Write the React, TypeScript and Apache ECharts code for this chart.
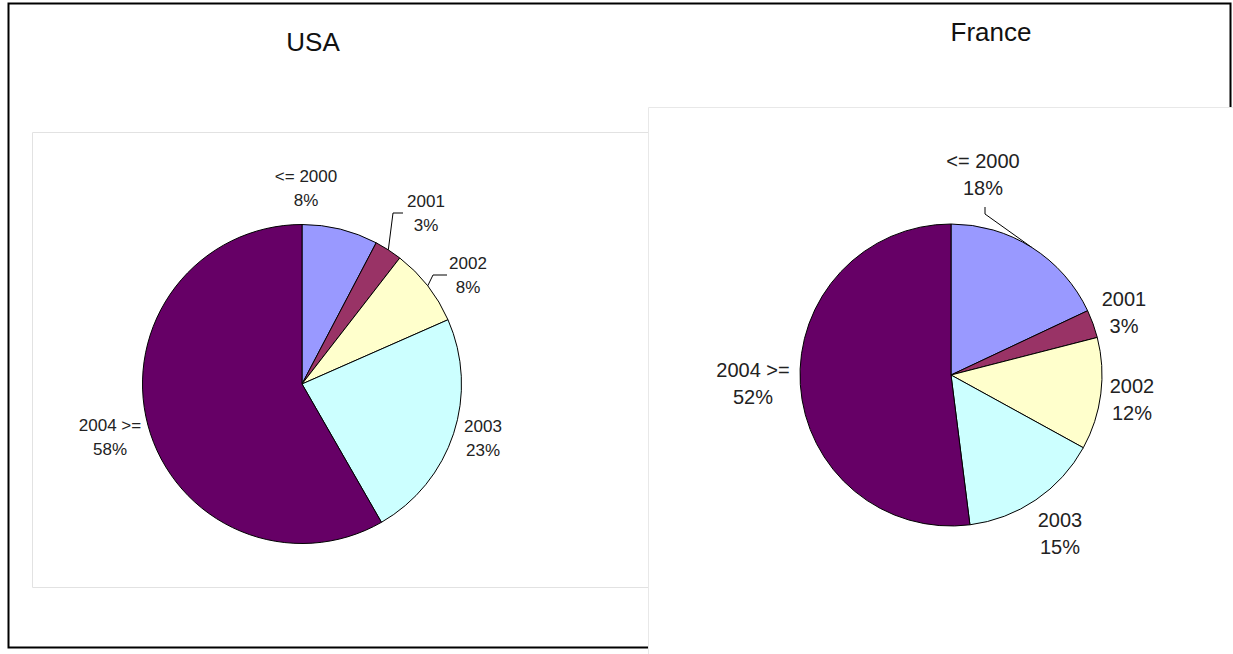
import React, { useEffect, useRef } from "react";
import * as echarts from "echarts";

// ---- data ----
const categories = ["<= 2000", "2001", "2002", "2003", "2004 >="];
const usaValues = [7.7, 2.8, 7.9, 23.3, 58.3];
const franceValues = [18, 3, 12, 15, 52];
const titles = ["USA", "France"];

// ---- styles / layout ----
const sliceColors = ["#9999FF", "#993366", "#FFFFCC", "#CCFFFF", "#660066"];
const FONT = "'Liberation Sans', Arial, Helvetica, sans-serif";

const usaCenter = [302, 384];
const usaRadius = 159.5;
const franceCenter = [951, 375];
const franceRadius = 151;

// label block centers relative to pie center
const usaLabelOffsets = [
  [4, -196],
  [124, -171],
  [166, -109],
  [181, 54],
  [-192, 53],
];
const usaLeaders: (number[][] | null)[] = [
  null,
  [
    [91, -171],
    [101, -171],
  ],
  [
    [131, -109],
    [145, -109],
  ],
  null,
  null,
];
const franceLabelOffsets = [
  [32, -201],
  [173, -63],
  [181, 24],
  [109, 158],
  [-198, 8],
];
const franceLeaders: (number[][] | null)[] = [
  [
    [34, -161],
    [34, -168],
  ],
  null,
  null,
  null,
  null,
];

function makePie(
  values: number[],
  center: number[],
  radius: number,
  offsets: number[][],
  leaders: (number[][] | null)[],
  fontSize: number,
  lineHeight: number
) {
  const [cx, cy] = center;
  return {
    type: "pie",
    center: center,
    radius: radius,
    startAngle: 90,
    clockwise: true,
    avoidLabelOverlap: false,
    percentPrecision: 0,
    silent: true,
    data: categories.map((name, i) => ({
      name,
      value: values[i],
      itemStyle: { color: sliceColors[i] },
      labelLine: { show: !!leaders[i] },
    })),
    itemStyle: { borderColor: "#000", borderWidth: 1 },
    label: {
      show: true,
      position: "outside",
      formatter: "{b}\n{d}%",
      fontFamily: FONT,
      fontSize,
      lineHeight,
      color: "#222",
    },
    labelLine: {
      show: false,
      length: 10,
      length2: 10,
      smooth: false,
      lineStyle: { color: "#000", width: 1 },
    },
    labelLayout: (params: any) => {
      const i = params.dataIndex;
      const o = offsets[i];
      const res: any = {
        x: cx + o[0],
        y: cy + o[1],
        align: "center",
        verticalAlign: "middle",
      };
      const l = leaders[i];
      if (l && params.labelLinePoints && params.labelLinePoints[0]) {
        const p0 = params.labelLinePoints[0];
        res.labelLinePoints = [
          [p0[0], p0[1]],
          [cx + l[0][0], cy + l[0][1]],
          [cx + l[1][0], cy + l[1][1]],
        ];
      }
      return res;
    },
  };
}

export default function App() {
  const ref = useRef<HTMLDivElement>(null);
  useEffect(() => {
    document.body.style.margin = "0";
    if (!ref.current) return;
    const chart = echarts.init(ref.current, null, { renderer: "svg" });
    chart.setOption({
      animation: false,
      backgroundColor: "#fff",
      graphic: [
        {
          type: "rect",
          shape: { x: 8.5, y: 3.5, width: 1222, height: 644 },
          style: { fill: "#fff", stroke: "#000", lineWidth: 2 },
          z: 0,
        },
        {
          type: "rect",
          shape: { x: 32.5, y: 132.5, width: 616, height: 455 },
          style: { fill: "#fff", stroke: "#e2e2e2", lineWidth: 1 },
          z: 1,
        },
        {
          type: "rect",
          shape: { x: 648.5, y: 107.5, width: 600, height: 600 },
          style: { fill: "#fff", stroke: "#e8e8e8", lineWidth: 1 },
          z: 1,
        },
        {
          type: "text",
          x: 313,
          y: 42,
          style: {
            text: titles[0],
            font: `26px ${FONT}`,
            fill: "#111",
            align: "center",
            verticalAlign: "middle",
          },
          z: 2,
        },
        {
          type: "text",
          x: 991,
          y: 32,
          style: {
            text: titles[1],
            font: `26px ${FONT}`,
            fill: "#111",
            align: "center",
            verticalAlign: "middle",
          },
          z: 2,
        },
      ],
      series: [
        makePie(usaValues, usaCenter, usaRadius, usaLabelOffsets, usaLeaders, 17, 24),
        makePie(franceValues, franceCenter, franceRadius, franceLabelOffsets, franceLeaders, 20, 27),
      ],
    });
    return () => chart.dispose();
  }, []);
  return <div ref={ref} style={{ width: 1233, height: 654 }} />;
}
